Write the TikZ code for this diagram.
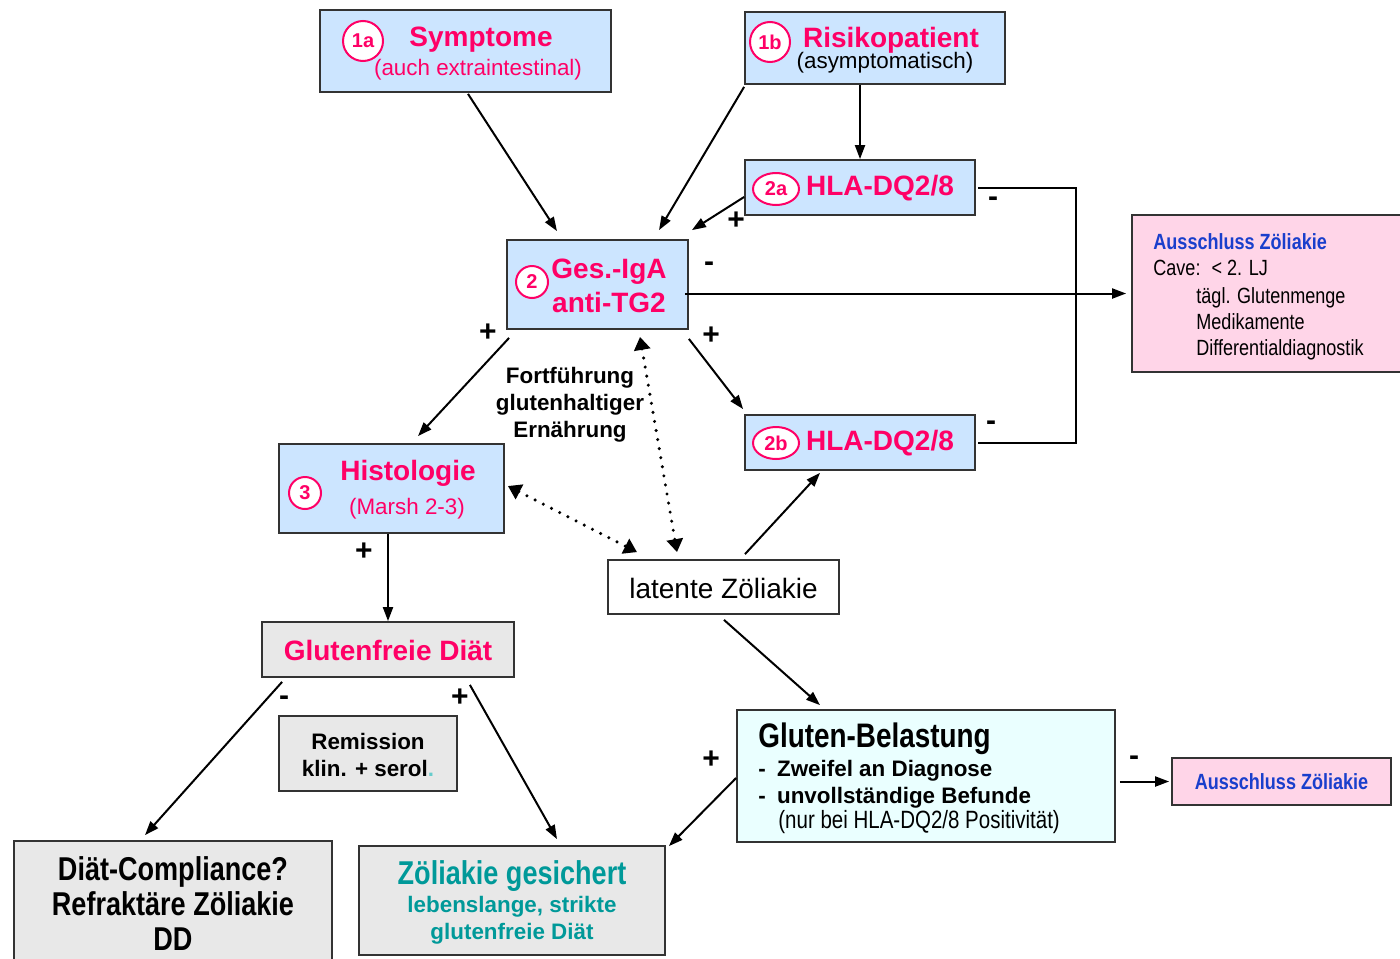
\documentclass[tikz,border=0pt]{standalone}
\usepackage{fontspec}
\setmainfont{Liberation Sans}
\newfontfamily\narrowfont[FakeStretch=0.82]{Liberation Sans}
\usetikzlibrary{arrows.meta, calc, shapes.geometric}
\definecolor{hotpink}{HTML}{FF0066}
\definecolor{boxblue}{HTML}{CCE5FF}
\definecolor{boxpink}{HTML}{FFD5E8}
\definecolor{boxcyan}{HTML}{EAFFFF}
\definecolor{boxgray}{HTML}{E8E8E8}
\definecolor{rim}{HTML}{333333}
\definecolor{sichergreen}{HTML}{009999}
\definecolor{ausblue}{HTML}{1A3FCC}
\definecolor{dotteal}{HTML}{66CCCC}
\tikzset{
    box/.style={draw=rim, line width=0.9pt, inner sep=0pt},
    num/.style={circle, draw=hotpink, line width=1pt, fill=white, text=hotpink,
        font=\fontsize{10}{10}\selectfont\bfseries, inner sep=0pt, minimum size=20pt},
    numoval/.style={num, ellipse, minimum width=23pt, minimum height=16pt},
    title/.style={text=hotpink, font=\fontsize{14}{17}\selectfont\bfseries, inner sep=0pt, align=center},
    subtitle/.style={text=hotpink, font=\fontsize{11.2}{13}\selectfont, inner sep=0pt},
    note/.style={font=\fontsize{11.2}{13.5}\selectfont\bfseries, align=center, inner sep=0pt},
    narrowtxt/.style={font=\narrowfont\fontsize{11}{13}\selectfont, inner sep=0pt},
    narrowbold/.style={font=\narrowfont\fontsize{11}{13}\selectfont\bfseries, inner sep=0pt, text=ausblue},
    bigtxt/.style={font=\narrowfont\fontsize{16.5}{17.5}\selectfont\bfseries, inner sep=0pt, align=center},
    sign/.style={font=\fontsize{15}{15}\selectfont\bfseries, inner sep=0pt},
    arr/.style={line width=1pt, -{Triangle[length=7pt,width=5pt]}},
    dotarr/.style={line width=1.7pt, dash pattern=on 0pt off 4.6pt, line cap=round,
        {Triangle[length=6.5pt,width=8pt]}-{Triangle[length=6.5pt,width=8pt]}}
}
\begin{document}
\begin{tikzpicture}[x=0.5pt, y=-0.5pt]
    \fill[white] (0,0) rectangle (1400,958);
    \useasboundingbox (0,0) rectangle (1400,958);

    % boxes
    \node[box, fill=boxblue, minimum width=145.5pt, minimum height=41pt] (sympt) at (465.5,51) {};
    \node[box, fill=boxblue, minimum width=130pt, minimum height=36pt] (risiko) at (875,48) {};
    \node[box, fill=boxblue, minimum width=115pt, minimum height=27.5pt] (hlaa) at (860,187.5) {};
    \node[box, fill=boxblue, minimum width=90.5pt, minimum height=44.5pt] (ges) at (597.5,284.5) {};
    \node[box, fill=boxpink, minimum width=139pt, minimum height=78.5pt] (aus1) at (1271,293.5) {};
    \node[box, fill=boxblue, minimum width=115pt, minimum height=27.5pt] (hlab) at (860,442.5) {};
    \node[box, fill=boxblue, minimum width=112.5pt, minimum height=44.5pt] (histo) at (391.5,488.5) {};
    \node[box, fill=white, minimum width=115.5pt, minimum height=27pt] (latent) at (723.5,587) {};
    \node[box, fill=boxgray, minimum width=126pt, minimum height=27.5pt] (gfd) at (388,649.5) {};
    \node[box, fill=boxgray, minimum width=89pt, minimum height=37.5pt] (remiss) at (368,753.5) {};
    \node[box, fill=boxcyan, minimum width=189pt, minimum height=66pt] (belast) at (926,776) {};
    \node[box, fill=boxpink, minimum width=109.5pt, minimum height=23.5pt] (aus2) at (1281.5,781.5) {};
    \node[box, fill=boxgray, minimum width=159pt, minimum height=64pt] (compl) at (173,905) {};
    \node[box, fill=boxgray, minimum width=153pt, minimum height=54.5pt] (sicher) at (512,900.5) {};

    % texts
    \node[num] (n1a) at (363,41) {1a};
    \node[title] (symptt) at (481,40) {Symptome};
    \node[subtitle] (symptu) at (478,70) {(auch extraintestinal)};
    \node[num] (n1b) at (770,42) {1b};
    \node[title] (risikot) at (891,40) {Risikopatient};
    \node[subtitle, text=black] (risikou) at (885,63) {(asymptomatisch)};
    \node[numoval] (n2a) at (776,189) {2a};
    \node[title] (hlaat) at (880,188) {HLA-DQ2/8};
    \node[num, minimum size=16pt] (n2) at (532,282) {2};
    \node[title] (gest) at (609,286) {Ges.-IgA\\anti-TG2};
    \node[numoval] (n2b) at (776,443) {2b};
    \node[title] (hlabt) at (880,443) {HLA-DQ2/8};
    \node[num, minimum size=16pt] (n3) at (305,493) {3};
    \node[title] (histot) at (408,473) {Histologie};
    \node[subtitle] (histou) at (407,509) {(Marsh 2-3)};
    \node[note] (fort) at (570,405) {Fortführung\\glutenhaltiger\\Ernährung};
    \node[font=\fontsize{14}{17}\selectfont, inner sep=0pt] (latentt) at (723.5,588) {latente Zöliakie};
    \node[title] (gfdt) at (388,650) {Glutenfreie Diät};
    \node[note] (remisst) at (368,755) {Remission\\klin. + serol\textcolor{dotteal}{.}};
    \node[narrowbold, anchor=west] (aus1t) at (1153,242) {Ausschluss Zöliakie};
    \node[narrowtxt, anchor=west] (cave) at (1153,268) {Cave:\enspace< 2. LJ};
    \node[narrowtxt, anchor=west, align=left] (cavel) at (1196,324) {tägl. Glutenmenge\\Medikamente\\Differentialdiagnostik};
    \node[anchor=west, font=\narrowfont\fontsize{17}{20}\selectfont\bfseries, inner sep=0pt] (belastt) at (758,739) {Gluten-Belastung};
    \node[anchor=west, note, align=left] (belastl) at (758,784) {-\enspace Zweifel an Diagnose\\-\enspace unvollständige Befunde};
    \node[anchor=west, font=\narrowfont\fontsize{12.5}{14}\selectfont, inner sep=0pt] (belastu) at (778,822) {(nur bei HLA-DQ2/8 Positivität)};
    \node[narrowbold] (aus2t) at (1281.5,782) {Ausschluss Zöliakie};
    \node[bigtxt] (complt) at (173,904) {Diät-Compliance?\\Refraktäre Zöliakie\\DD};
    \node[bigtxt, text=sichergreen] (sichert) at (512,876) {Zöliakie gesichert};
    \node[note, text=sichergreen] (sicheru) at (512,920) {lebenslange, strikte\\glutenfreie Diät};

    % connectors
    \draw[arr] ($(sympt.south)+(2.5,1)$) -- ($(ges.north)+(-40.5,-8)$);
    \draw[arr] ($(risiko.south west)+(0,2)$) -- ($(ges.north)+(61.5,-9)$);
    \draw[arr] (hlaa.north |- risiko.south) -- (hlaa.north);
    \draw[arr] ($(hlaa.west)+(0,9.5)$) -- ($(ges.north east)+(3,-9)$);
    \draw[line width=1pt] ($(hlaa.east)+(2,0)$) -- ++(98,0) |- ($(hlab.east)+(2,0)$);
    \draw[arr] ($(ges.east)+(-4,9)$) -- ($(aus1.west)+(-5,0)$);
    \draw[arr] ($(ges.south west)+(3,8)$) -- ($(histo.north)+(26.5,-7)$);
    \draw[arr] ($(ges.south east)+(0,9)$) -- ($(hlab.north west)+(-1,-5)$);
    \draw[dotarr] ($(ges.south)+(42.5,7)$) -- ($(latent.north)+(-46.5,-7)$);
    \draw[dotarr] ($(histo.east)+(3,-2.5)$) -- ($(latent.north)+(-86.5,-7)$);
    \draw[arr] ($(latent.north)+(21.5,-5)$) -- ($(hlab.south)+(-40,2)$);
    \draw[arr] (gfd.north |- histo.south) -- (gfd.north);
    \draw[arr] ($(latent.south)+(0.5,5)$) -- ($(belast.north)+(-106,-4)$);
    \draw[arr] ($(gfd.south west)+(21,4)$) -- ($(compl.north)+(-28,-5)$);
    \draw[arr] ($(gfd.south east)+(-45,7)$) -- ($(sicher.north)+(45,-6)$);
    \draw[arr] ($(belast.west)+(0,2)$) -- ($(sicher.north east)+(3,1)$);
    \draw[arr] ($(belast.east)+(4,5.5)$) -- ($(aus2.west)+(-2,0)$);

    % signs
    \node[sign] (p1) at (736,221) {+};
    \node[sign] (m1) at (993,202) {-};
    \node[sign] (m2) at (709,267) {-};
    \node[sign] (p2) at (488,333) {+};
    \node[sign] (p3) at (711,336) {+};
    \node[sign] (m3) at (991,426) {-};
    \node[sign] (p4) at (364,552) {+};
    \node[sign] (m4) at (284,701) {-};
    \node[sign] (p5) at (460,698) {+};
    \node[sign] (p6) at (711,760) {+};
    \node[sign] (m5) at (1134,761) {-};
\end{tikzpicture}
\end{document}
